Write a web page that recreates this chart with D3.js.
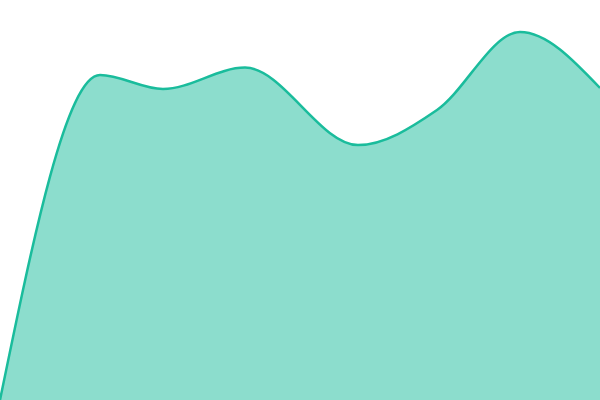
<!DOCTYPE html>
<html>
<head>
<meta charset="utf-8">
<script src="https://cdn.jsdelivr.net/npm/d3@7"></script>
<style>
  body { margin: 0; background: #fff; }
</style>
</head>
<body>
<div class="area-chart"></div>
<script>
// values (the steps are not evenly spaced)
const steps = [0, 10, 16.3, 24.5, 35.8, 43.7, 52, 60]
const values = [0, 81.25, 77.75, 83.1, 63.75, 72.5, 92, 78]

let width = 600,
    height = 400
let svg = d3.select(".area-chart")
    .append("svg")
    .attr("width", width)
    .attr("height", height)

let x = d3.scaleLinear().domain([0, 60]).range([0, width])
let y = d3.scaleLinear().domain([0, 100]).range([height, 0])

let data = steps.map((s, i) => ({ s: s, v: values[i] }))

let area = d3.area()
    .curve(d3.curveMonotoneX)
    .x(d => x(d.s))
    .y0(height)
    .y1(d => y(d.v))
let line = d3.line()
    .curve(d3.curveMonotoneX)
    .x(d => x(d.s))
    .y(d => y(d.v))

svg.append("path")
    .datum(data)
    .attr("fill", "#1abc9c")
    .attr("fill-opacity", 0.5)
    .attr("d", area)
svg.append("path")
    .datum(data)
    .attr("fill", "none")
    .attr("stroke", "#1abc9c")
    .attr("stroke-width", 2.5)
    .attr("d", line)
</script>
</body>
</html>
